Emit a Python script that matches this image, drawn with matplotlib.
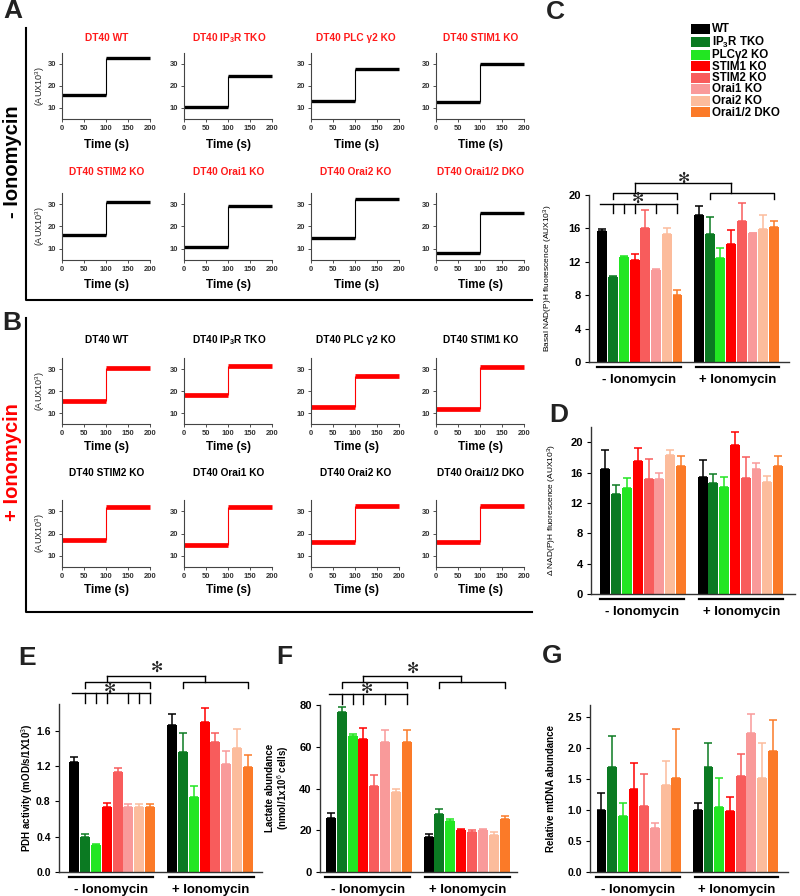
import numpy as np
import matplotlib
matplotlib.use("Agg")
import matplotlib.pyplot as plt
from matplotlib.transforms import blended_transform_factory
from matplotlib.lines import Line2D
from matplotlib.patches import Rectangle

plt.rcParams['font.family'] = ['Liberation Sans', 'DejaVu Sans']
plt.rcParams['mathtext.fontset'] = 'custom'
plt.rcParams['mathtext.rm'] = 'Liberation Sans'
plt.rcParams['mathtext.it'] = 'Liberation Sans:italic'
plt.rcParams['mathtext.bf'] = 'Liberation Sans:bold'

W, H = 800, 896

# ---------------- data ----------------
trace_titles = ["DT40 WT", r"DT40 IP$_\mathbf{3}$R TKO", "DT40 PLC γ2 KO", "DT40 STIM1 KO",
                "DT40 STIM2 KO", "DT40 Orai1 KO", "DT40 Orai2 KO", "DT40 Orai1/2 DKO"]
# NAD(P)H level before / after addition at t = 100 s (AUX x10^3)
minus_before = [16, 10.5, 13, 12.5, 16, 11, 15, 8]
minus_after = [32.5, 24.5, 27.5, 30, 31, 29, 32.5, 26]
plus_before = [15.5, 18, 12.5, 12, 17, 15, 16, 16]
plus_after = [30.5, 31.5, 27, 31, 32, 32, 32.5, 32.5]

groups = ["WT", r"IP$_\mathbf{3}$R TKO", "PLCγ2 KO", "STIM1 KO", "STIM2 KO",
          "Orai1 KO", "Orai2 KO", "Orai1/2 DKO"]
colors = ["#000000", "#0b7a22", "#22e622", "#ff0000", "#f85c5c",
          "#f99a9a", "#fcbc9c", "#fb7a28"]

basal_minus = [15.7, 10.2, 12.6, 12.2, 16.0, 11.0, 15.3, 8.0]
basal_minus_err = [0.2, 0.1, 0.1, 0.7, 2.2, 0.1, 0.7, 0.6]
basal_plus = [17.6, 15.3, 12.4, 14.1, 16.9, 15.4, 15.9, 16.2]
basal_plus_err = [1.1, 2.1, 1.2, 1.7, 2.1, 0.1, 1.7, 0.7]

delta_minus = [16.5, 13.2, 13.9, 17.5, 15.1, 15.1, 18.3, 16.8]
delta_minus_err = [2.5, 1.2, 1.4, 1.7, 2.7, 0.9, 0.7, 1.4]
delta_plus = [15.4, 14.6, 14.1, 19.6, 15.3, 16.5, 14.7, 16.8]
delta_plus_err = [2.3, 1.2, 1.3, 1.7, 2.7, 0.7, 0.8, 1.4]

pdh_minus = [1.245, 0.40, 0.30, 0.74, 1.13, 0.74, 0.73, 0.735]
pdh_minus_err = [0.05, 0.03, 0.02, 0.04, 0.05, 0.03, 0.04, 0.035]
pdh_plus = [1.66, 1.355, 0.845, 1.70, 1.47, 1.22, 1.40, 1.185]
pdh_plus_err = [0.13, 0.215, 0.125, 0.16, 0.10, 0.15, 0.22, 0.135]

lactate_minus = [26.1, 76.8, 65.2, 63.6, 41.0, 62.5, 38.2, 62.5]
lactate_minus_err = [2.4, 2.4, 0.9, 5.2, 5.5, 5.5, 1.6, 5.5]
lactate_plus = [16.6, 27.9, 24.2, 20.2, 19.0, 20.2, 17.5, 25.3]
lactate_plus_err = [1.6, 2.4, 1.3, 0.4, 0.9, 0.4, 1.9, 1.3]

mtdna_minus = [1.00, 1.69, 0.905, 1.35, 1.07, 0.707, 1.40, 1.52]
mtdna_minus_err = [0.285, 0.51, 0.215, 0.41, 0.515, 0.09, 0.39, 0.80]
mtdna_plus = [1.00, 1.69, 1.055, 0.99, 1.55, 2.24, 1.52, 1.96]
mtdna_plus_err = [0.11, 0.39, 0.465, 0.225, 0.36, 0.32, 0.57, 0.50]

fig = plt.figure(figsize=(W / 100, H / 100), dpi=100)


def px_axes(left, top, right, bottom):
    return fig.add_axes([left / W, 1 - bottom / H, (right - left) / W, (bottom - top) / H])


def fig_text(x, y, s, **kw):
    return fig.text(x / W, 1 - y / H, s, **kw)


def fig_line(xs, ys, **kw):
    fig.add_artist(Line2D([x / W for x in xs], [1 - y / H for y in ys], color="black", **kw))


# ---------------- panels A / B : traces ----------------
cols = [62, 184, 311, 436]
rows = [(53, 119, 38, 145), (193, 260, 172, 285), (358, 424, 340, 447), (500, 567, 473, 590)]

for block, (before, after, lcol, tcol) in enumerate([(minus_before, minus_after, "black", "#ff1a1a"),
                                                      (plus_before, plus_after, "#ff0000", "black")]):
    for i in range(8):
        top, bot, ty, xy = rows[block * 2 + i // 4]
        left = cols[i % 4]
        ax = px_axes(left, top, left + 90, bot)
        lw = 2.4 if block == 0 else 3.4
        ax.hlines(before[i], 0, 100, color=lcol, lw=lw)
        ax.hlines(after[i], 100, 200, color=lcol, lw=lw)
        ax.vlines(100, before[i], after[i], color=lcol, lw=0.8)
        ax.set_xlim(0, 205)
        ax.set_ylim(5, 35)
        ax.set_xticks([0, 50, 100, 150, 200])
        ax.set_yticks([10, 20, 30])
        for s in ("top", "right"):
            ax.spines[s].set_visible(False)
        for s in ("left", "bottom"):
            ax.spines[s].set_linewidth(0.8)
            ax.spines[s].set_color("#444444")
        ax.spines["bottom"].set_bounds(0, 200)
        ax.tick_params(labelsize=5.5, length=2, width=0.6, pad=2, colors="#333333")
        for lab in ax.get_xticklabels() + ax.get_yticklabels():
            lab.set_fontweight("bold")
        cx = left + 45
        fig_text(cx, ty, trace_titles[i], color=tcol, fontsize=7.3, fontweight="bold",
                 ha="center", va="center")
        fig_text(cx, xy, "Time (s)", fontsize=8.5, fontweight="bold", ha="center", va="center")
        if i % 4 == 0:
            fig_text(40, (top + bot) / 2, r"(AUX10$^3$)", fontsize=6.5, rotation=90,
                     ha="center", va="center", color="#222222")

# boxes around A and B
fig_line([26, 26, 532], [28, 300, 300], lw=1.5)
fig_line([26, 26, 532], [318, 612, 612], lw=1.5)
fig_text(13, 162, "- Ionomycin", fontsize=14.5, fontweight="bold", rotation=90, ha="center", va="center")
fig_text(13, 462, "+ Ionomycin", fontsize=14.5, fontweight="bold", rotation=90, ha="center", va="center",
         color="#ff0000")

# panel letters
for letter, x, y in [("A", 13, 11), ("B", 12, 323), ("C", 555, 12), ("D", 559, 415),
                     ("E", 27, 658), ("F", 284, 657), ("G", 552, 656)]:
    fig_text(x, y, letter, fontsize=19, fontweight="bold", ha="center", va="center", color="#222222")

# ---------------- bar panels ----------------
xpos = np.r_[0:8, 9:17]


def bar_panel(box, minus, minus_err, plus, plus_err, xlim, ylim, yticks, fmt, tick_fs):
    left, top, right, bot = box
    ax = px_axes(left, top, right, bot)
    vals = list(minus) + list(plus)
    errs = list(minus_err) + list(plus_err)
    cols2 = colors * 2
    bars = ax.bar(xpos, vals, width=0.92, color=cols2, edgecolor="none", zorder=2)
    for x, v, e, c in zip(xpos, vals, errs, cols2):
        ax.errorbar(x, v, yerr=[[0], [e]], fmt="none", ecolor=c, elinewidth=1.1,
                    capsize=3, capthick=1.1, zorder=1)
    ax.set_xlim(*xlim)
    ax.set_ylim(*ylim)
    ax.set_xticks([])
    ax.set_yticks(yticks)
    ax.set_yticklabels([fmt % t for t in yticks])
    for s in ("top", "right"):
        ax.spines[s].set_visible(False)
    for s in ("left", "bottom"):
        ax.spines[s].set_linewidth(1.0)
        ax.spines[s].set_color("#333333")
    ax.tick_params(axis="y", labelsize=tick_fs, length=3, width=0.8, pad=3)
    for lab in ax.get_yticklabels():
        lab.set_fontweight("bold")
    axh = bot - top
    tr = blended_transform_factory(ax.transData, ax.transAxes)
    yl = -5 / axh
    ax.plot([-0.5, 7.3], [yl, yl], color="black", lw=1.6, transform=tr, clip_on=False)
    ax.plot([8.7, 16.5], [yl, yl], color="black", lw=1.6, transform=tr, clip_on=False)
    ax.text(3.4, -18 / axh, "- Ionomycin", transform=tr, ha="center", va="center",
            fontsize=9.5, fontweight="bold")
    ax.text(12.6, -18 / axh, "+ Ionomycin", transform=tr, ha="center", va="center",
            fontsize=9.5, fontweight="bold")
    return ax, bars


def sig_brackets(ax, tick_bars, y_low, y_tick, y_mid, y_mid_end, y_top, y_star1, y_star2):
    kw = dict(color="black", lw=1.0, clip_on=False)
    ax.plot([-0.2, 7], [y_low, y_low], **kw)
    for b in tick_bars:
        ax.plot([b, b], [y_low, y_tick], **kw)
    for a, b, c in [(1, 7, 3), (10, 16, 12)]:
        ax.plot([a, a, b, b], [y_mid_end, y_mid, y_mid, y_mid_end], **kw)
        ax.plot([c, c], [y_mid, y_top], **kw)
    ax.plot([3, 12], [y_top, y_top], **kw)
    ax.text(3.3, y_star1, "✻", family="DejaVu Sans", fontsize=10.5, ha="center", va="center",
            color="#222222", clip_on=False)
    ax.text(7.6, y_star2, "✻", family="DejaVu Sans", fontsize=10.5, ha="center", va="center",
            color="#222222", clip_on=False)


# C
axC, barsC = bar_panel((589, 195, 789, 362), basal_minus, basal_minus_err, basal_plus, basal_plus_err,
                       (-1.25, 17.4), (0, 20), list(range(0, 21, 4)), "%d", 8)
sig_brackets(axC, [1, 2, 3, 5, 7], 18.9, 17.8, 20.2, 19.5, 21.4, 19.6, 22.0)
fig_text(548, 278, r"Basal NAD(P)H fluorescence (AUX10$^3$)", fontsize=6, rotation=90,
         ha="center", va="center")

# legend for C, one swatch + label per genotype
legend_rows = [29.5, 42, 55, 66.5, 78, 89.5, 101, 112.5]
for g, c, ry in zip(groups, colors, legend_rows):
    fig.add_artist(Rectangle((691 / W, 1 - (ry + 5) / H), 19 / W, 10 / H, facecolor=c,
                             edgecolor="none", transform=fig.transFigure))
    fig_text(712, ry, g, fontsize=8.3, fontweight="bold", ha="left", va="center")

# D
axD, _ = bar_panel((591, 427, 795, 594), delta_minus, delta_minus_err, delta_plus, delta_plus_err,
                   (-1.34, 17.57), (0, 22), list(range(0, 21, 4)), "%d", 8)
fig_text(552, 510, r"Δ NAD(P)H fluorescence (AUX10$^3$)", fontsize=6, rotation=90,
         ha="center", va="center")

# E
axE, _ = bar_panel((59, 704, 262, 872), pdh_minus, pdh_minus_err, pdh_plus, pdh_plus_err,
                   (-1.38, 17.28), (0, 1.9), [0, 0.4, 0.8, 1.2, 1.6], "%.1f", 7.5)
sig_brackets(axE, [1, 2, 3, 5, 6, 7], 2.02, 1.91, 2.15, 2.08, 2.22, 2.08, 2.31)
fig_text(27, 788, r"PDH activity (mOD/s/1X10$^3$)", fontsize=7, fontweight="bold", rotation=90,
         ha="center", va="center")

# F
axF, _ = bar_panel((320, 705, 517, 872), lactate_minus, lactate_minus_err, lactate_plus, lactate_plus_err,
                   (-1.0, 17.14), (0, 80), list(range(0, 81, 20)), "%d", 8)
sig_brackets(axF, [1, 2, 3, 5, 7], 85.4, 80.6, 91.1, 88.2, 94.0, 88.2, 97.8)
fig_text(278, 788, "Lactate abundance\n" + r"(nmol/1x10$^6$ cells)", fontsize=7, fontweight="bold",
         rotation=90, ha="center", va="center", linespacing=1.1)

# G
axG, _ = bar_panel((590, 705, 788, 872), mtdna_minus, mtdna_minus_err, mtdna_plus, mtdna_plus_err,
                   (-1.07, 17.43), (0, 2.7), [0, 0.5, 1.0, 1.5, 2.0, 2.5], "%.1f", 7.5)
fig_text(551, 788, "Relative mtDNA abundance", fontsize=7, fontweight="bold", rotation=90,
         ha="center", va="center")

fig.savefig("out.png", dpi=100)
